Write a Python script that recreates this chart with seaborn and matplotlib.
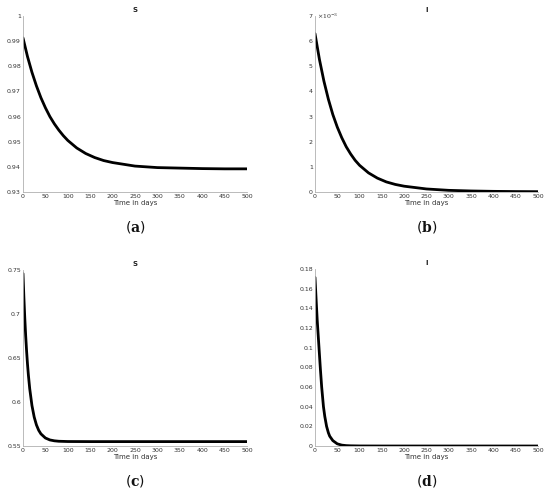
import matplotlib
matplotlib.use("Agg")
import matplotlib.pyplot as plt
import pandas as pd
import seaborn as sns

# panel (a): S, first scenario
t_a = [0, 10, 20, 30, 40, 50, 60, 70, 80, 90, 100, 120, 140, 160, 180, 200,
       250, 300, 350, 400, 450, 500]
s_a = [0.9913, 0.9839, 0.9776, 0.9722, 0.9675, 0.9635, 0.9600, 0.9571, 0.9546,
       0.9524, 0.9505, 0.9475, 0.9453, 0.9437, 0.9425, 0.9417, 0.9403, 0.9397,
       0.9395, 0.9393, 0.9392, 0.9392]

# panel (b): I, first scenario
t_b = [0, 10, 20, 30, 40, 50, 60, 70, 80, 90, 100, 120, 140, 160, 180, 200,
       250, 300, 350, 400, 450, 500]
i_b = [6.30e-3, 5.27e-3, 4.41e-3, 3.69e-3, 3.08e-3, 2.58e-3, 2.16e-3, 1.80e-3,
       1.51e-3, 1.26e-3, 1.06e-3, 0.76e-3, 0.55e-3, 0.40e-3, 0.30e-3, 0.23e-3,
       0.12e-3, 0.065e-3, 0.04e-3, 0.025e-3, 0.017e-3, 0.012e-3]

# panel (c): S, second scenario
t_c = [0, 2, 4, 6, 8, 10, 12, 15, 20, 25, 30, 35, 40, 50, 60, 70, 80, 100,
       150, 200, 300, 400, 500]
s_c = [0.746, 0.7188, 0.6954, 0.6754, 0.6582, 0.6435, 0.6309, 0.6152, 0.5960,
       0.5829, 0.5740, 0.5679, 0.5638, 0.5591, 0.5569, 0.5559, 0.5554, 0.5551,
       0.5550, 0.5550, 0.5550, 0.5550, 0.5550]

# panel (d): I, second scenario
t_d = [0, 3, 5, 9, 12, 15, 19, 22, 26, 30, 33, 40, 50, 60, 70, 80, 100,
       150, 200, 300, 400, 500]
i_d = [0.1715, 0.145, 0.128, 0.100, 0.079, 0.060, 0.040, 0.030, 0.020, 0.0135,
       0.010, 0.0055, 0.0022, 0.0009, 0.0004, 0.0002, 0.00005, 0.0, 0.0, 0.0,
       0.0, 0.0]

x_ticks = list(range(0, 501, 50))

ticks_a = [0.93, 0.94, 0.95, 0.96, 0.97, 0.98, 0.99, 1.0]
labels_a = ["0.93", "0.94", "0.95", "0.96", "0.97", "0.98", "0.99", "1"]
ticks_b = [0, 1e-3, 2e-3, 3e-3, 4e-3, 5e-3, 6e-3, 7e-3]
labels_b = ["0", "1", "2", "3", "4", "5", "6", "7"]
ticks_c = [0.55, 0.6, 0.65, 0.7, 0.75]
labels_c = ["0.55", "0.6", "0.65", "0.7", "0.75"]
ticks_d = [0, 0.02, 0.04, 0.06, 0.08, 0.1, 0.12, 0.14, 0.16, 0.18]
labels_d = ["0", "0.02", "0.04", "0.06", "0.08", "0.1", "0.12", "0.14", "0.16", "0.18"]

panels = [
    ("S", "a", t_a, s_a, ticks_a, labels_a, [0.0418, 0.6145, 0.4073, 0.3534]),
    ("I", "b", t_b, i_b, ticks_b, labels_b, [0.5727, 0.6145, 0.4055, 0.3534]),
    ("S", "c", t_c, s_c, ticks_c, labels_c, [0.0418, 0.1044, 0.4073, 0.3534]),
    ("I", "d", t_d, i_d, ticks_d, labels_d, [0.5727, 0.1044, 0.4055, 0.3554]),
]

sns.set_style("white")
plt.rcParams["font.family"] = ["DejaVu Sans"]
plt.rcParams["mathtext.fontset"] = "dejavuserif"

fig = plt.figure(figsize=(5.5, 4.98), dpi=100)

for title, tag, t, y, yt, yl, rect in panels:
    ax = fig.add_axes(rect)
    df = pd.DataFrame({"t": t, "y": y})
    sns.lineplot(data=df, x="t", y="y", ax=ax, color="black", linewidth=2)
    ax.set_xlim(0, 500)
    ax.set_ylim(yt[0], yt[-1])
    ax.set_xticks(x_ticks)
    ax.set_xticklabels([str(v) for v in x_ticks])
    ax.set_yticks(yt)
    ax.set_yticklabels(yl)
    ax.tick_params(axis="both", direction="in", length=2, width=0.5,
                   labelsize=4.5, colors="#a0a0a0", labelcolor="#333333", pad=1.5)
    for side in ["top", "right"]:
        ax.spines[side].set_visible(False)
    for side in ["left", "bottom"]:
        ax.spines[side].set_color("#b0b0b0")
        ax.spines[side].set_linewidth(0.6)
    ax.set_title(title, fontsize=5, fontweight="bold", pad=3, color="#222222")
    ax.set_xlabel("Time in days", fontsize=5, labelpad=1, color="#333333")
    ax.set_ylabel("")
    ax.text(0.5, -0.2, r"($\mathbf{" + tag + r"}$)", transform=ax.transAxes,
            ha="center", va="center", fontsize=10, color="#111111")
    if tag == "b":
        ax.text(0.01, 1.0, r"$\times10^{-3}$", transform=ax.transAxes,
                ha="left", va="center", fontsize=4.5, color="#333333")

fig.savefig("out.png", dpi=100)
